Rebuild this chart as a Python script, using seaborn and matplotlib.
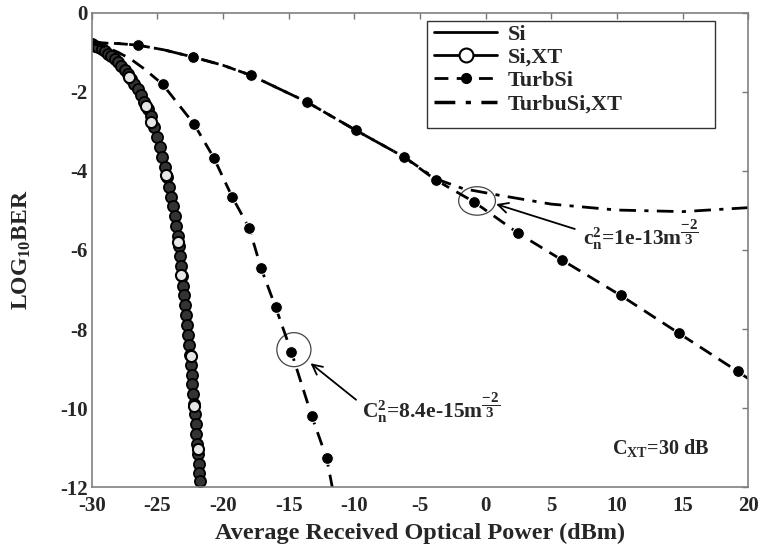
import matplotlib
matplotlib.use("Agg")
import matplotlib.pyplot as plt
from matplotlib.lines import Line2D
from matplotlib.patches import Ellipse, Rectangle
import seaborn as sns

# ---- data -------------------------------------------------------------
# Back-to-back (no turbulence) curve, dense sampling along the curve
si_x = [-30.0, -29.75, -29.5, -29.25, -29.0, -28.75, -28.5, -28.25, -28.0, -27.75,
        -27.5, -27.25, -27.0, -26.75, -26.5, -26.25, -26.0, -25.75, -25.5, -25.25,
        -25.0, -24.82, -24.63, -24.45, -24.27, -24.10, -23.95, -23.80, -23.68, -23.57,
        -23.46, -23.36, -23.28, -23.21, -23.14, -23.05, -22.96, -22.87, -22.79, -22.72,
        -22.65, -22.58, -22.51, -22.45, -22.39, -22.33, -22.27, -22.21, -22.15, -22.09,
        -22.03, -21.97, -21.91, -21.85, -21.80, -21.75]
si_y = [-0.80, -0.84, -0.88, -0.93, -0.98, -1.04, -1.10, -1.17, -1.25, -1.34,
        -1.44, -1.55, -1.67, -1.80, -1.94, -2.09, -2.25, -2.43, -2.62, -2.88,
        -3.15, -3.40, -3.65, -3.90, -4.15, -4.40, -4.65, -4.90, -5.15, -5.40,
        -5.65, -5.90, -6.15, -6.40, -6.65, -6.90, -7.15, -7.40, -7.65, -7.90,
        -8.15, -8.40, -8.65, -8.90, -9.15, -9.40, -9.65, -9.90, -10.15, -10.40,
        -10.65, -10.90, -11.15, -11.40, -11.65, -11.85]

# Crosstalk-limited curve (open markers)
sixt_x = [-27.14, -25.87, -25.48, -24.34, -23.44, -23.19, -22.45, -22.19, -21.92]
sixt_y = [-1.62, -2.37, -2.77, -4.10, -5.79, -6.63, -8.67, -9.94, -11.03]

# Turbulent channel, Cn^2 = 8.4e-15 m^-2/3
tb1_line_x = [-30.0, -29.0, -28.0, -27.0, -26.0, -24.6, -22.2, -20.7, -19.3, -18.0,
              -17.1, -16.0, -14.8, -13.24, -12.1, -11.5]
tb1_line_y = [-0.78, -0.86, -1.00, -1.18, -1.42, -1.81, -2.82, -3.67, -4.66, -5.45,
              -6.46, -7.44, -8.57, -10.20, -11.27, -12.3]
tb1_mk_x = [-24.6, -22.2, -20.7, -19.3, -18.0, -17.1, -16.0, -14.8, -13.24, -12.1]
tb1_mk_y = [-1.81, -2.82, -3.67, -4.66, -5.45, -6.46, -7.44, -8.57, -10.20, -11.27]

# Turbulent channel, Cn^2 = 1e-13 m^-2/3
tb2_line_x = [-30.0, -28.0, -26.5, -24.5, -22.3, -20.0, -17.9, -13.6, -9.9, -6.2,
              -3.8, -0.9, 2.5, 5.8, 10.3, 14.7, 19.2, 20.0]
tb2_line_y = [-0.76, -0.78, -0.82, -0.94, -1.12, -1.33, -1.58, -2.26, -2.97, -3.65,
              -4.23, -4.78, -5.58, -6.25, -7.15, -8.10, -9.07, -9.25]
tb2_mk_x = [-26.5, -22.3, -17.9, -13.6, -9.9, -6.2, -3.8, -0.9, 2.5, 5.8, 10.3, 14.7, 19.2]
tb2_mk_y = [-0.82, -1.12, -1.58, -2.26, -2.97, -3.65, -4.23, -4.78, -5.58, -6.25, -7.15,
            -8.10, -9.07]

# Turbulent channel with crosstalk (saturates at an error floor)
tbxt_x = [-30.0, -28.0, -26.5, -24.5, -22.3, -20.0, -17.9, -13.6, -9.9, -6.2,
          -3.8, -1.7, 1.1, 5.0, 10.0, 15.0, 20.0]
tbxt_y = [-0.76, -0.78, -0.82, -0.94, -1.12, -1.33, -1.58, -2.26, -2.97, -3.65,
          -4.20, -4.45, -4.62, -4.84, -4.99, -5.03, -4.93]

xticks = [-30, -25, -20, -15, -10, -5, 0, 5, 10, 15, 20]
yticks = [0, -2, -4, -6, -8, -10, -12]
legend_labels = ["Si", "Si,XT", "TurbSi", "TurbuSi,XT"]

# ---- style ------------------------------------------------------------
sns.set_style("white")
serif = "Liberation Serif"
plt.rcParams["font.family"] = [serif, "DejaVu Serif"]
plt.rcParams["font.weight"] = "bold"
plt.rcParams["mathtext.fontset"] = "custom"
plt.rcParams["mathtext.rm"] = serif + ":bold"
plt.rcParams["mathtext.it"] = serif + ":bold"
plt.rcParams["mathtext.bf"] = serif + ":bold"

fig = plt.figure(figsize=(7.58, 5.49), dpi=100)
ax = fig.add_axes([0.121, 0.1124, 0.866, 0.8645])

dash = (0, (5, 3))
dashdot = (0, (6, 3, 1.5, 3))

# Si: solid line with dense dark markers
sns.lineplot(x=si_x, y=si_y, ax=ax, sort=False, color="k", lw=2, estimator=None)
sns.lineplot(x=si_x, y=si_y, ax=ax, sort=False, estimator=None, linestyle="",
             marker="o", markersize=8, markerfacecolor="#333333",
             markeredgecolor="k", markeredgewidth=1.3)
# Si,XT open markers
sns.lineplot(x=sixt_x, y=sixt_y, ax=ax, sort=False, estimator=None, linestyle="",
             marker="o", markersize=8, markerfacecolor="#e6e6e6",
             markeredgecolor="k", markeredgewidth=1.5)

# Turbulence curves
sns.lineplot(x=tb1_line_x, y=tb1_line_y, ax=ax, sort=False, estimator=None,
             color="k", lw=2, linestyle=dash)
sns.lineplot(x=tb1_mk_x, y=tb1_mk_y, ax=ax, sort=False, estimator=None,
             linestyle="", marker="o", markersize=8.5, color="k")
sns.lineplot(x=tb2_line_x, y=tb2_line_y, ax=ax, sort=False, estimator=None,
             color="k", lw=2, linestyle=dash)
sns.lineplot(x=tb2_mk_x, y=tb2_mk_y, ax=ax, sort=False, estimator=None,
             linestyle="", marker="o", markersize=8.5, color="k")
sns.lineplot(x=tbxt_x, y=tbxt_y, ax=ax, sort=False, estimator=None,
             color="k", lw=2, linestyle=dashdot)

# Highlight circles and arrows
ax.add_patch(Ellipse((-14.6, -8.52), 2.6, 0.86, fill=False, ec="#444444", lw=0.9))
ax.add_patch(Ellipse((-0.65, -4.76), 2.8, 0.72, fill=False, ec="#444444", lw=0.9))
ax.annotate("", xy=(-13.5, -8.82), xytext=(-9.7, -9.83),
            arrowprops=dict(arrowstyle="->", color="k", lw=1.3, mutation_scale=18))
ax.annotate("", xy=(0.6, -4.82), xytext=(7.0, -5.49),
            arrowprops=dict(arrowstyle="->", color="k", lw=1.3, mutation_scale=18))
ax.text(-9.45, -10.0, r"C$_\mathregular{n}^\mathregular{2}$=8.4e-15m$^{\dfrac{-2}{3}}$",
        fontsize=15.5, fontweight="bold", va="center", ha="left")
ax.text(7.4, -5.62, r"c$_\mathregular{n}^\mathregular{2}$=1e-13m$^{\dfrac{-2}{3}}$",
        fontsize=15.5, fontweight="bold", va="center", ha="left")
ax.text(9.6, -11.0, r"C$_\mathregular{XT}$=30 dB", fontsize=14.5, fontweight="bold",
        va="center", ha="left")

# Axes
ax.set_xlim(-30, 20)
ax.set_ylim(-12, 0)
ax.set_xticks(xticks)
ax.set_yticks(yticks)
ax.set_xticklabels([str(t) for t in xticks])
ax.set_yticklabels([str(t) for t in yticks])
ax.tick_params(direction="in", length=4, width=1, color="#777777",
               top=True, right=True, labelsize=15)
ax.tick_params(axis="x", pad=6.5)
ax.tick_params(axis="y", pad=3)
for lab in ax.get_xticklabels() + ax.get_yticklabels():
    lab.set_fontweight("bold")
for sp in ax.spines.values():
    sp.set_color("#808080")
    sp.set_linewidth(1.2)
ax.set_xlabel("Average Received Optical Power (dBm)", fontsize=17.5,
              fontweight="bold", labelpad=5)
ax.set_ylabel(r"LOG$_{10}$BER", fontsize=17, fontweight="bold")
ax.yaxis.set_label_coords(-0.09, 0.5)

# Legend with a wide box
handles = [
    Line2D([], [], color="k", lw=2),
    Line2D([], [], color="k", lw=2, marker="o", markersize=10,
           markerfacecolor="white", markeredgecolor="k", markeredgewidth=1.5),
    Line2D([], [], color="k", lw=2, linestyle=dash, marker="o", markersize=7),
    Line2D([], [], color="k", lw=2.5, linestyle=dashdot),
]
ax.add_patch(Rectangle((0.5107, 0.757), 0.4386, 0.226, transform=ax.transAxes,
                       fill=True, fc="white", ec="#333333", lw=1, zorder=4))
leg = ax.legend(handles, legend_labels, loc="upper left",
                bbox_to_anchor=(0.512, 0.99), frameon=False,
                handlelength=2.8, handletextpad=0.5, labelspacing=0.12,
                borderaxespad=0, borderpad=0.3, prop={"weight": "bold", "size": 16})
leg.set_zorder(5)

fig.savefig("out.png", dpi=100, facecolor="white")
